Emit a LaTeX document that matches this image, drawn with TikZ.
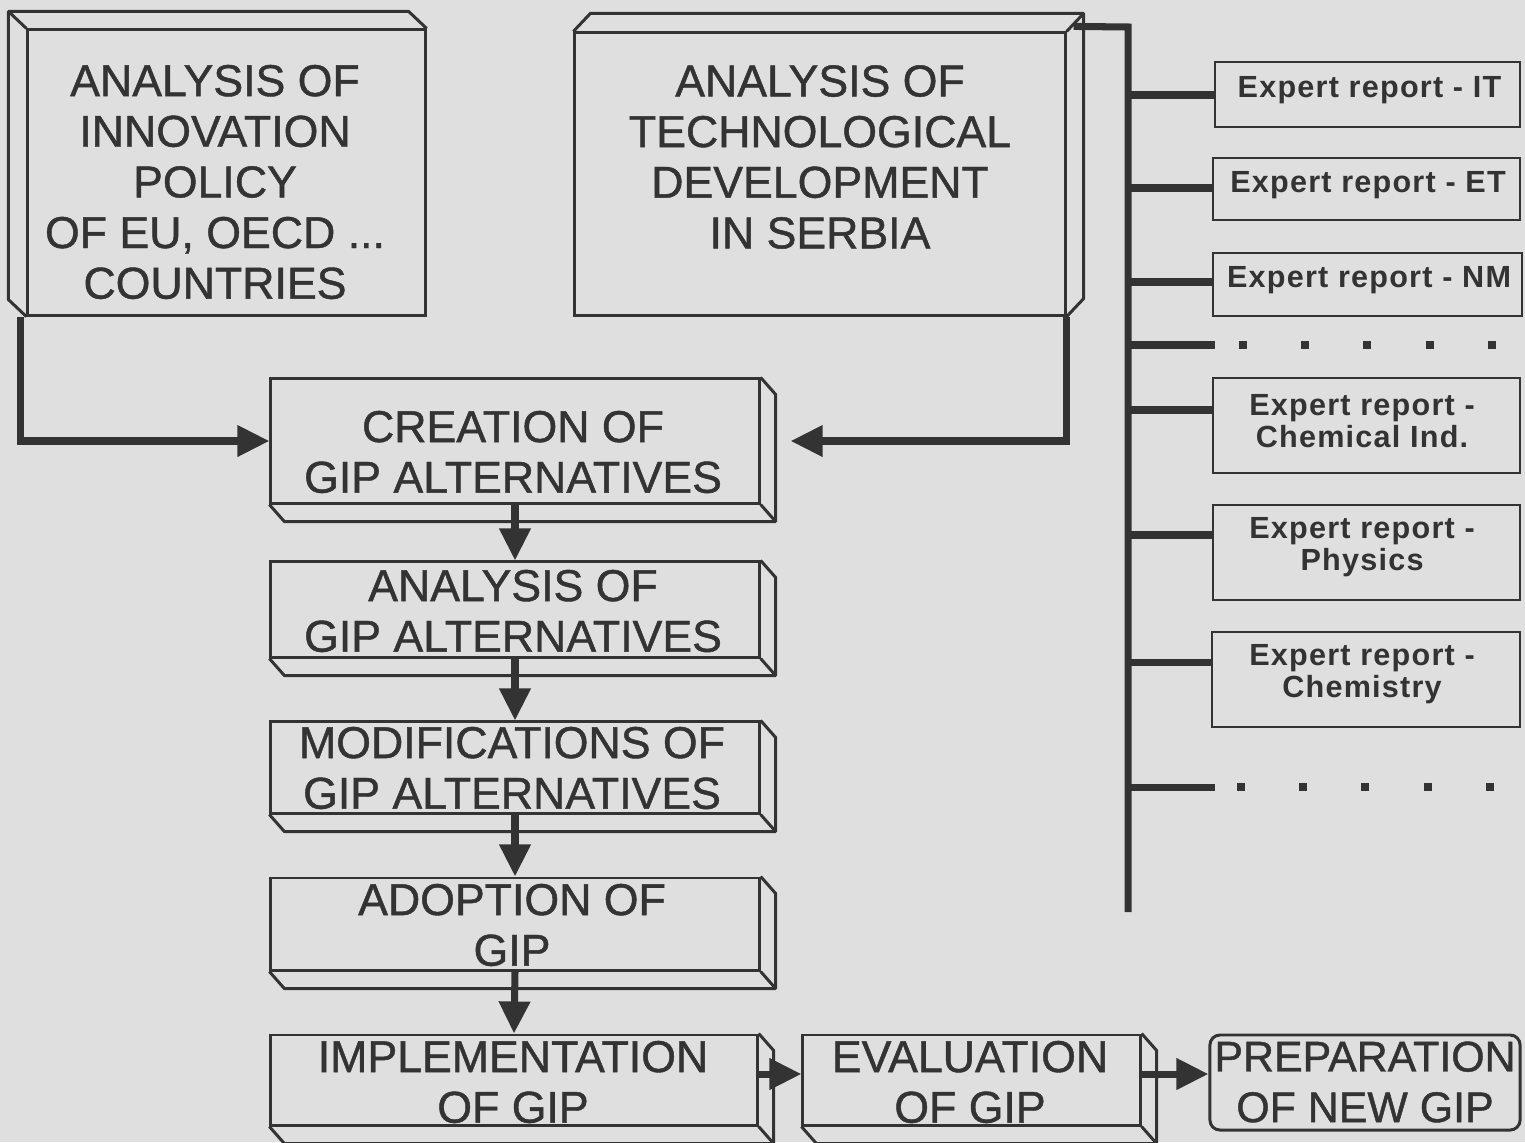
\documentclass[tikz,border=0pt]{standalone}
\usepackage{fontspec}
\setmainfont{Liberation Sans}[FakeBold=1.2]
\newfontfamily\mainfnt{Liberation Sans}[FakeBold=1.0]
\newfontfamily\expfont{Liberation Sans}[LetterSpace=4.0]
\usetikzlibrary{arrows.meta,calc}
\definecolor{paper}{gray}{0.875}
\definecolor{ink}{gray}{0.2}
\begin{document}
\begin{tikzpicture}[x=0.01cm,y=-0.01cm,
  face/.style={draw=ink,line width=0.85pt,inner sep=0pt,rectangle},
  depth/.style={draw=ink,line width=0.85pt,line join=round},
  expbox/.style={draw=ink,line width=0.75pt,inner sep=0pt,rectangle},
  maintxt/.style={text=ink,font=\mainfnt\fontsize{12.7}{14.4}\selectfont,align=center,inner sep=0pt},
  exptxt/.style={text=ink,font=\expfont\bfseries\fontsize{8.7}{9.1}\selectfont,align=center,inner sep=0pt},
  conn/.style={draw=ink,line width=2pt,line join=miter},
  arr/.style={conn,-{Triangle[length=0.32cm,width=0.3cm]}}]
\fill[paper] (0,0) rectangle (1525,1142);
\useasboundingbox (0,0) rectangle (1525,1142);

% ---------- top boxes ----------
\node[face,minimum width=3.97cm,minimum height=2.85cm] (b1) at (226.5,172.5) {};
\draw[depth] (b1.south west) -- ++(-18,-17) -- ($(b1.north west)+(-18,-17)$) -- ($(b1.north east)+(-18,-17)$) -- (b1.north east)
             (b1.north west) -- ++(-18,-17);
\node[maintxt] (t1) at (215,182) {ANALYSIS OF\\INNOVATION\\POLICY\\OF EU, OECD ...\\COUNTRIES};

\node[face,minimum width=4.90cm,minimum height=2.82cm] (b2) at (820,174) {};
\draw[depth] (b2.north west) -- ++(17,-18) -- ($(b2.north east)+(17,-18)$) -- ($(b2.south east)+(17,-18)$) -- (b2.south east)
             (b2.north east) -- ++(17,-18);
\node[maintxt] (t2) at (820,157) {ANALYSIS OF\\TECHNOLOGICAL\\DEVELOPMENT\\IN SERBIA};

% ---------- process column ----------
\newcommand\dr[1]{\draw[depth] (#1.north east) -- ++(15,17) -- ($(#1.south east)+(15,17)$) -- ($(#1.south west)+(15,17)$) -- (#1.south west)
             (#1.south east) -- ++(15,17);}

\node[face,minimum width=4.88cm,minimum height=1.24cm] (c1) at (515,441) {};
\dr{c1}
\node[maintxt] (tc1) at (513,452) {CREATION OF\\GIP ALTERNATIVES};

\node[face,minimum width=4.88cm,minimum height=0.95cm] (a2) at (515,609.5) {};
\dr{a2}
\node[maintxt] (ta2) at (513,611) {ANALYSIS OF\\GIP ALTERNATIVES};

\node[face,minimum width=4.88cm,minimum height=0.91cm] (m1) at (515,767.5) {};
\dr{m1}
\node[maintxt] (tm1) at (512,768) {MODIFICATIONS OF\\GIP ALTERNATIVES};

\node[face,minimum width=4.88cm,minimum height=0.92cm] (d1) at (515,924) {};
\dr{d1}
\node[maintxt] (td1) at (512,925) {ADOPTION OF\\GIP};

\node[face,minimum width=4.86cm,minimum height=0.90cm] (i1) at (514,1080) {};
\dr{i1}
\node[maintxt] (ti1) at (513,1082) {IMPLEMENTATION\\OF GIP};

\node[face,minimum width=3.37cm,minimum height=0.90cm] (e1) at (971.5,1080) {};
\dr{e1}
\node[maintxt] (te1) at (970,1082) {EVALUATION\\OF GIP};

\node[face,rounded corners=0.1cm,minimum width=3.10cm,minimum height=0.95cm] (p1) at (1365,1082.5) {};
\node[maintxt,font=\mainfnt\fontsize{12.2}{14.4}\selectfont] (tp1) at (1365,1082) {PREPARATION\\OF NEW GIP};

% ---------- expert reports ----------
\node[expbox,minimum width=3.05cm,minimum height=0.65cm] (eIT) at (1367.5,94.5) {};
\node[exptxt] (tIT) at (1369.5,90) {Expert report - IT};
\node[expbox,minimum width=3.07cm,minimum height=0.62cm] (eET) at (1366.5,189) {};
\node[exptxt] (tET) at (1368,185) {Expert report - ET};
\node[expbox,minimum width=3.09cm,minimum height=0.63cm] (eNM) at (1367.5,284.5) {};
\node[exptxt] (tNM) at (1369,280) {Expert report - NM};
\node[expbox,minimum width=3.07cm,minimum height=0.95cm] (eCI) at (1366.5,425.5) {};
\node[exptxt] (tCI) at (1362,421) {Expert report -\\Chemical Ind.};
\node[expbox,minimum width=3.07cm,minimum height=0.95cm] (ePH) at (1366.5,552.5) {};
\node[exptxt] (tPH) at (1362,547) {Expert report -\\Physics};
\node[expbox,minimum width=3.08cm,minimum height=0.95cm] (eCH) at (1366,679.5) {};
\node[exptxt] (tCH) at (1362,674) {Expert report -\\Chemistry};

% ---------- bus ----------
\coordinate (b2o) at ($(b2.north east)+(7,-5)$);
\coordinate (bustop) at (1128,27);
\coordinate (busbot) at (1128,912);
\draw[conn] (b2o) -- (bustop) -- (busbot);
\coordinate (j1) at (1128,95);
\coordinate (j2) at (1128,188);
\coordinate (j3) at (1128,282);
\coordinate (j4) at (1128,345);
\coordinate (j5) at (1128,410);
\coordinate (j6) at (1128,535);
\coordinate (j7) at (1128,662);
\coordinate (j8) at (1128,787);
\coordinate (d4) at (1215,345);
\coordinate (d8) at (1215,787);
\draw[conn] (j1) -- (j1 -| eIT.west);
\draw[conn] (j2) -- (j2 -| eET.west);
\draw[conn] (j3) -- (j3 -| eNM.west);
\draw[conn] (j4) -- (d4);
\draw[conn] (j5) -- (j5 -| eCI.west);
\draw[conn] (j6) -- (j6 -| ePH.west);
\draw[conn] (j7) -- (j7 -| eCH.west);
\draw[conn] (j8) -- (d8);
\foreach \x in {1243,1305,1367,1430,1492} \fill[ink] (\x-4,341) rectangle (\x+4,349);
\foreach \x in {1241,1303,1365,1428,1490} \fill[ink] (\x-4,783) rectangle (\x+4,791);

% ---------- arrows ----------
\coordinate (h1) at ($(i1.east)+(0,-6)$);
\coordinate (h2) at ($(e1.east)+(0,-6)$);
\draw[arr] ($(b1.south west)+(-6,0)$) |- (c1.west);
\draw[arr] (b2.south east) |- ($(c1.east)+(30,0)$);
\draw[arr] (c1.south) -- (a2.north);
\draw[arr] (a2.south) -- (m1.north);
\draw[arr] (m1.south) -- (d1.north);
\draw[arr] (d1.south) -- (i1.north);
\draw[arr] (h1) -- (h1 -| e1.west);
\draw[arr] (h2) -- (h2 -| p1.west);
\end{tikzpicture}
\end{document}
